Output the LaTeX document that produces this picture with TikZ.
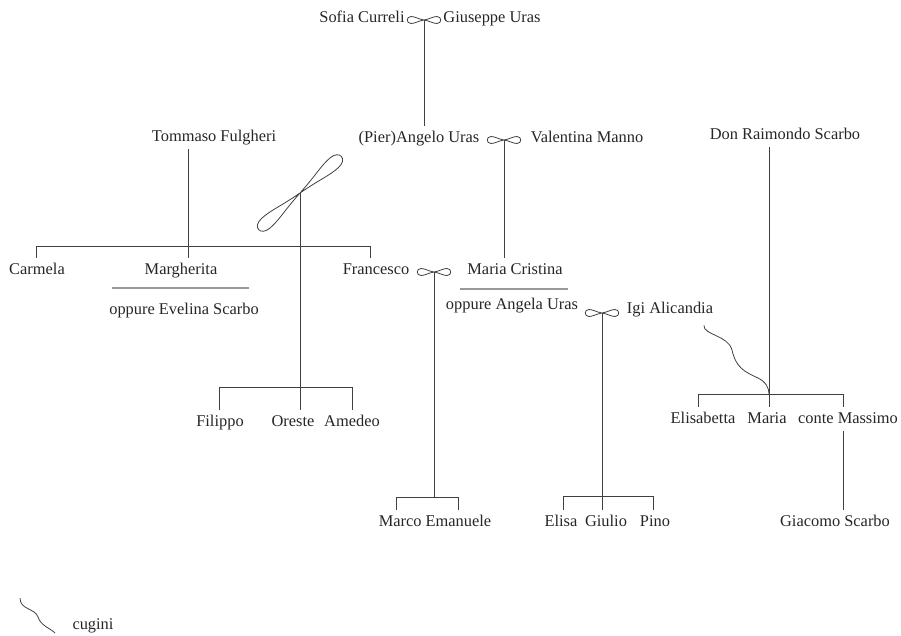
\documentclass[tikz,border=0pt]{standalone}
\usepackage{fontspec}
\setmainfont{Liberation Serif}
\usepackage{tikz}

\tikzset{
  person/.style={font=\fontsize{12.3}{14}\selectfont, text=black!85, inner xsep=2pt, inner ysep=4pt, text height=8.5pt, text depth=1.6pt},
  famline/.style={draw=black!75, line width=0.6pt},
  altline/.style={draw=black!40, line width=0.9pt},
  wed/.pic={
    \draw[famline] (0,0) .. controls (6,-1) and (9,-3.5) .. (13,-3.5) .. controls (18,-3.5) and (18,3.5) .. (13,3.5) .. controls (9,3.5) and (6,1) .. (0,0)
      .. controls (-6,-1) and (-9,-3.5) .. (-13,-3.5) .. controls (-18,-3.5) and (-18,3.5) .. (-13,3.5) .. controls (-9,3.5) and (-6,1) .. (0,0);
  }
}

\begin{document}
\begin{tikzpicture}[x=0.75pt,y=0.75pt,yscale=-1,xscale=1]
\useasboundingbox (0,0) rectangle (901,636);

% Text Node
\node[person] (sofia) at (362,18) {Sofia Curreli};
\node[person] (giuseppe) at (492,18) {Giuseppe Uras};
% Text Node
\node[person] (pier) at (419,138) {(Pier)Angelo Uras};
\node[person] (valentina) at (587,138) {Valentina Manno};
\node[person] (tommaso) at (214,137) {Tommaso Fulgheri};
\node[person] (raimondo) at (785,135) {Don Raimondo Scarbo};
% Text Node
\node[person] (carmela) at (37,270) {Carmela};
\node[person] (margherita) at (181,270) {Margherita};
\node[person] (evelina) at (184,310) {oppure Evelina Scarbo};
\node[person] (francesco) at (376,270) {Francesco};
\node[person] (cristina) at (515,270) {Maria Cristina};
\node[person] (angela) at (512,305) {oppure Angela Uras};
\node[person] (igi) at (670,309) {Igi Alicandia};
% Text Node
\node[person] (filippo) at (220,422) {Filippo};
\node[person] (oreste) at (293,422) {Oreste};
\node[person] (amedeo) at (352,422) {Amedeo};
\node[person] (elisabetta) at (703,419) {Elisabetta};
\node[person] (maria) at (767,419) {Maria};
\node[person] (massimo) at (848,419) {conte Massimo};
% Text Node
\node[person] (marco) at (435,522) {Marco Emanuele};
\node[person] (elisa) at (561,522) {Elisa};
\node[person] (giulio) at (606,522) {Giulio};
\node[person] (pino) at (655,522) {Pino};
\node[person] (giacomo) at (835,522) {Giacomo Scarbo};
\node[person] (cugini) at (93,625) {cugini};

%Shape: marriage knots
\coordinate (w1) at (424,20);
\coordinate (w2) at (504,140);
\coordinate (w3) at (434,272);
\coordinate (w4) at (602,313);
\coordinate (lp) at (300,193);
\pic at (w1) {wed};
\pic at (w2) {wed};
\pic at (w3) {wed};
\pic at (w4) {wed};
\draw[famline] (lp) .. controls (317.4,173.4) and (320.1,166.7) .. (329.8,158.1) .. controls (339.6,149.5) and (348.1,159.1) .. (338.3,167.7) .. controls (328.6,176.3) and (321.6,178.2) .. (lp)
  .. controls (278.4,207.8) and (271.4,209.7) .. (261.7,218.3) .. controls (251.9,226.9) and (260.4,236.5) .. (270.2,227.9) .. controls (279.9,219.3) and (282.7,212.6) .. (lp);

%Straight Lines: bars over the children
\coordinate (fL) at (36,246);
\coordinate (fM) at (188,246);
\coordinate (fR) at (370,246);
\coordinate (oL) at (219,387);
\coordinate (oR) at (352,387);
\coordinate (mL) at (396,497);
\coordinate (mR) at (458,497);
\coordinate (eL) at (563,496);
\coordinate (eR) at (653,496);
\coordinate (sL) at (698,394);
\coordinate (sM) at (769,394);
\coordinate (sR) at (843,394);

\draw[famline] (w1) -- (w1 |- pier.north);
\draw[famline] (w2) -- (w2 |- cristina.north);
\draw[famline] (tommaso.south -| fM) -- (margherita.north -| fM);
\draw[famline] (carmela.north -| fL) -- (fL) -- (fR) -- (francesco.north -| fR);
\draw[famline] (lp) -- (lp |- oreste.north);
\draw[famline] (filippo.north -| oL) -- (oL) -- (oR) -- (amedeo.north -| oR);
\draw[famline] (w3) -- (w3 |- mL);
\draw[famline] (marco.north -| mL) -- (mL) -- (mR) -- (marco.north -| mR);
\draw[famline] (w4) -- (w4 |- giulio.north);
\draw[famline] (elisa.north -| eL) -- (eL) -- (eR) -- (pino.north -| eR);
\draw[famline] (raimondo.south -| sM) -- (maria.north -| sM);
\draw[famline] (elisabetta.north -| sL) -- (sL) -- (sR) -- (massimo.north -| sR);
\draw[famline] (massimo.south -| sR) -- (giacomo.north -| sR);

%Curve Lines: cousins
\draw[famline] ([xshift=-9pt,yshift=3pt]igi.south east) .. controls (703,335) and (728,335) .. (732,350) .. controls (736,368) and (745,372) .. (758,378) .. controls (766,382) and (769,388) .. (sM);
\coordinate (lg) at (20,598);
\draw[famline] (lg) .. controls (20,610) and (35,608) .. (38,617) .. controls (41,626) and (50,628) .. (55,633);

%Straight Lines: alternatives
\coordinate (a1) at (112,288);
\coordinate (a2) at (249,288);
\coordinate (a3) at (460,289);
\coordinate (a4) at (568,289);
\draw[altline] (a1) -- (a2);
\draw[altline] (a3) -- (a4);

\end{tikzpicture}
\end{document}
